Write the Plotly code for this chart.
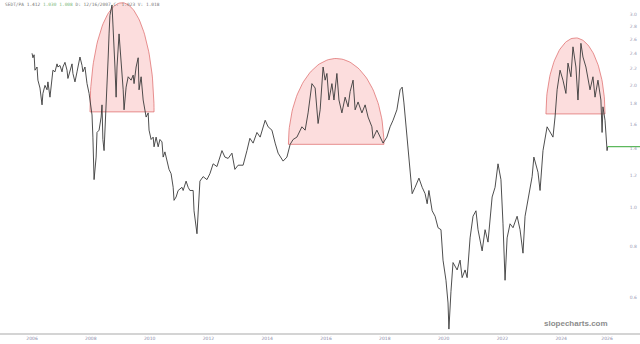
import math
import plotly.graph_objects as go

# ---- data (decimal year, ratio value) ----
years = [
    2006.00, 2006.03, 2006.07, 2006.10, 2006.17, 2006.20, 2006.27, 2006.34, 2006.37, 2006.44,
    2006.51, 2006.54, 2006.61, 2006.68, 2006.71, 2006.78, 2006.85, 2006.88, 2006.95, 2007.02,
    2007.05, 2007.12, 2007.19, 2007.22, 2007.29, 2007.36, 2007.39, 2007.46, 2007.53, 2007.56,
    2007.63, 2007.70, 2007.73, 2007.80, 2007.87, 2007.94, 2008.01, 2008.04, 2008.07, 2008.11,
    2008.18, 2008.21, 2008.28, 2008.35, 2008.38, 2008.41, 2008.45, 2008.52, 2008.55, 2008.59,
    2008.62, 2008.65, 2008.72, 2008.76, 2008.79, 2008.82, 2008.86, 2008.89, 2008.96, 2008.99,
    2009.06, 2009.10, 2009.13, 2009.20, 2009.27, 2009.37, 2009.44, 2009.47, 2009.54, 2009.61,
    2009.64, 2009.71, 2009.78, 2009.81, 2009.88, 2009.95, 2009.98, 2010.05, 2010.12, 2010.15,
    2010.22, 2010.29, 2010.35, 2010.42, 2010.46, 2010.52, 2010.59, 2010.66, 2010.73, 2010.80,
    2010.83, 2010.90, 2010.97, 2011.10, 2011.14, 2011.24, 2011.31, 2011.37, 2011.48, 2011.51,
    2011.61, 2011.65, 2011.71, 2011.82, 2011.95, 2012.05, 2012.16, 2012.29, 2012.46, 2012.56,
    2012.67, 2012.80, 2012.90, 2013.01, 2013.18, 2013.31, 2013.41, 2013.52, 2013.65, 2013.76,
    2013.93, 2014.03, 2014.16, 2014.27, 2014.37, 2014.54, 2014.67, 2014.78, 2014.88, 2015.01,
    2015.18, 2015.29, 2015.39, 2015.52, 2015.63, 2015.73, 2015.80, 2015.90, 2015.97, 2016.03,
    2016.10, 2016.20, 2016.27, 2016.37, 2016.44, 2016.54, 2016.65, 2016.75, 2016.82, 2016.92,
    2016.99, 2017.09, 2017.22, 2017.33, 2017.43, 2017.56, 2017.60, 2017.73, 2017.84, 2017.94,
    2018.07, 2018.18, 2018.28, 2018.41, 2018.52, 2018.59, 2018.65, 2018.76, 2018.82, 2018.93,
    2019.03, 2019.16, 2019.27, 2019.37, 2019.44, 2019.50, 2019.61, 2019.71, 2019.81, 2019.91,
    2019.98, 2020.08, 2020.15, 2020.18, 2020.25, 2020.32, 2020.46, 2020.56, 2020.63, 2020.73,
    2020.80, 2020.90, 2021.00, 2021.10, 2021.17, 2021.31, 2021.41, 2021.51, 2021.65, 2021.75,
    2021.85, 2021.95, 2022.02, 2022.09, 2022.16, 2022.26, 2022.36, 2022.50, 2022.60, 2022.70,
    2022.77, 2022.87, 2023.01, 2023.07, 2023.21, 2023.28, 2023.38, 2023.52, 2023.62, 2023.72,
    2023.79, 2023.86, 2023.96, 2024.06, 2024.16, 2024.23, 2024.33, 2024.40, 2024.50, 2024.57,
    2024.67, 2024.74, 2024.84, 2024.91, 2024.98, 2025.08, 2025.15, 2025.25, 2025.35, 2025.39,
    2025.42, 2025.49, 2025.56, 2025.58,
]
ratio = [
    2.40, 2.34, 2.38, 2.18, 2.22, 2.06, 1.97, 1.79, 1.91, 2.00,
    1.95, 2.04, 1.87, 2.06, 2.18, 2.16, 2.26, 2.22, 2.24, 2.16,
    2.22, 2.28, 2.18, 2.08, 2.16, 2.26, 2.14, 2.04, 2.16, 2.22,
    2.35, 2.24, 2.16, 2.22, 2.02, 1.91, 1.72, 1.69, 1.49, 1.17,
    1.33, 1.53, 1.55, 1.67, 1.79, 1.47, 1.38, 1.74, 2.02, 2.35,
    2.68, 2.98, 3.16, 2.79, 2.44, 2.22, 1.87, 2.22, 2.68, 2.49,
    2.22, 1.95, 1.74, 1.98, 2.10, 2.06, 2.12, 2.02, 2.22, 2.34,
    1.95, 2.10, 1.84, 1.77, 1.67, 1.71, 1.55, 1.47, 1.49, 1.41,
    1.49, 1.41, 1.47, 1.45, 1.33, 1.37, 1.31, 1.24, 1.21, 1.12,
    1.04, 1.06, 1.10, 1.12, 1.10, 1.16, 1.12, 1.10, 1.10, 0.98,
    0.86, 0.97, 1.16, 1.19, 1.17, 1.21, 1.28, 1.26, 1.38, 1.33,
    1.32, 1.36, 1.24, 1.27, 1.27, 1.38, 1.48, 1.44, 1.53, 1.49,
    1.64, 1.58, 1.55, 1.44, 1.36, 1.30, 1.33, 1.43, 1.47, 1.49,
    1.58, 1.55, 1.71, 2.02, 1.97, 1.61, 1.74, 2.22, 2.06, 2.14,
    1.84, 2.02, 1.84, 2.14, 1.84, 1.71, 1.87, 1.77, 1.93, 2.06,
    1.74, 1.82, 1.71, 1.79, 1.67, 1.58, 1.48, 1.55, 1.49, 1.44,
    1.49, 1.58, 1.64, 1.74, 1.95, 1.98, 1.81, 1.47, 1.33, 1.08,
    1.12, 1.18, 1.12, 1.08, 1.02, 1.10, 0.98, 0.95, 0.89, 0.88,
    0.74, 0.66, 0.58, 0.50, 0.62, 0.73, 0.70, 0.74, 0.67, 0.70,
    0.67, 0.84, 0.95, 0.98, 0.88, 0.78, 0.88, 0.82, 1.06, 1.12,
    1.28, 1.17, 0.91, 0.66, 0.84, 0.91, 0.89, 0.95, 0.88, 0.77,
    0.95, 1.04, 1.19, 1.33, 1.22, 1.10, 1.38, 1.58, 1.53, 1.49,
    1.67, 1.95, 2.18, 2.06, 1.91, 2.27, 2.10, 2.49, 2.22, 1.84,
    2.54, 2.35, 2.22, 2.06, 1.95, 2.10, 1.87, 2.06, 1.84, 1.53,
    1.77, 1.64, 1.38, 1.412,
]

# rounded-top "arch" annotations: start year, end year, base value, top value
arch_start = [2007.97, 2014.72, 2023.48]
arch_end = [2010.15, 2017.97, 2025.49]
arch_base = [1.72, 1.43, 1.70]
arch_top = [3.20, 2.33, 2.62]

tick_years = [2006, 2008, 2010, 2012, 2014, 2016, 2018, 2020, 2022, 2024, 2025.56]
tick_text = ["2006", "2008", "2010", "2012", "2014", "2016", "2018", "2020", "2022", "2024", "2026"]
y_ticks = [3.0, 2.8, 2.6, 2.4, 2.2, 2.0, 1.8, 1.6, 1.4, 1.2, 1.0, 0.8, 0.6]

x_range = [2004.91, 2026.68]
y_range = [0.489, 3.25]

fig = go.Figure()

# arches (half ellipses in log space)
n = 80
for s, e, b, t in zip(arch_start, arch_end, arch_base, arch_top):
    cx = (s + e) / 2
    hw = (e - s) / 2
    lb, lt = math.log10(b), math.log10(t)
    xs, ys = [], []
    for i in range(n + 1):
        a = math.pi * i / n
        xs.append(cx - hw * math.cos(a))
        ys.append(10 ** (lb + (lt - lb) * math.sin(a)))
    xs.append(xs[0])
    ys.append(ys[0])
    fig.add_trace(go.Scatter(
        x=xs, y=ys, mode="lines", fill="toself",
        fillcolor="rgba(244,130,130,0.27)",
        line=dict(color="rgba(220,95,95,0.85)", width=0.8),
        hoverinfo="skip", showlegend=False,
    ))

# price line
fig.add_trace(go.Scatter(
    x=years, y=ratio, mode="lines",
    line=dict(color="#3a3a3a", width=0.9),
    showlegend=False,
))

# last-price line
fig.add_trace(go.Scatter(
    x=[years[-1], x_range[1]], y=[ratio[-1], ratio[-1]], mode="lines",
    line=dict(color="#5cb85c", width=1.2),
    showlegend=False, hoverinfo="skip",
))

fig.update_layout(
    width=640, height=344,
    margin=dict(l=0, r=0, t=0, b=11),
    paper_bgcolor="white", plot_bgcolor="white",
    xaxis=dict(
        range=x_range, showgrid=False, zeroline=False,
        tickmode="array", tickvals=tick_years, ticktext=tick_text,
        tickfont=dict(size=4.5, color="#8a8aa8", family="DejaVu Sans"),
        showline=True, linecolor="#d4d4d4", linewidth=2, ticks="",
    ),
    yaxis=dict(
        type="log", range=[math.log10(y_range[0]), math.log10(y_range[1])],
        side="right", ticklabelposition="inside",
        tickmode="array", tickvals=y_ticks,
        ticktext=[f"{v:.1f}" for v in y_ticks],
        tickfont=dict(size=4.5, color="#9a9ab4", family="DejaVu Sans"),
        showgrid=False, zeroline=False, ticks="",
    ),
    annotations=[
        dict(
            x=0.004, y=0.999, xref="paper", yref="paper", xanchor="left", yanchor="top",
            showarrow=False,
            text=("<span style='color:#777'>SEDT/PA 1.412</span> "
                  "<span style='color:#7ab87a'>1.030 1.008</span> "
                  "<span style='color:#777'>D: 12/16/2007 C: 1.023 V: 1.018</span>"),
            font=dict(size=4.5, family="DejaVu Sans Mono"),
        ),
        dict(
            x=2025.65, y=math.log10(0.515), xref="x", yref="y",
            xanchor="right", yanchor="middle", showarrow=False,
            text="<b>slopecharts.com</b>",
            font=dict(size=8, color="#8c8c8c", family="Liberation Sans"),
        ),
    ],
)

fig.write_html("out.html")
